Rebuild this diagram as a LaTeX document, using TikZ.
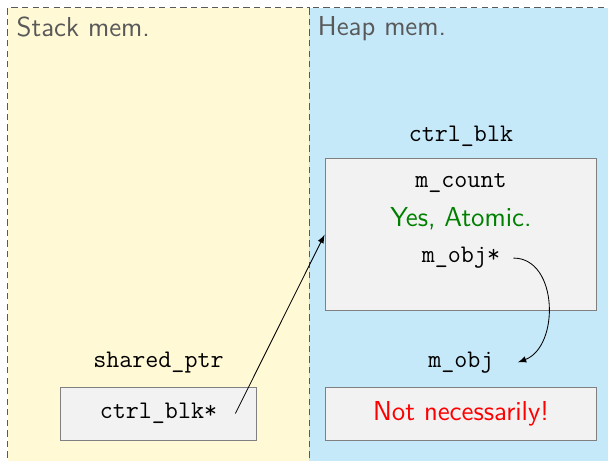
\documentclass[tikz,border=0pt]{standalone}
\usepackage{fontspec}
\usetikzlibrary{positioning}

\definecolor{stackbg}{RGB}{255,249,214}
\definecolor{heapbg}{RGB}{198,233,250}
\definecolor{cellbg}{RGB}{242,242,242}

\begin{document}
\begin{tikzpicture}[
    region/.style={draw=black!65, dash pattern=on 3pt off 2pt},
    regtitle/.style={anchor=north west, inner sep=4pt, text=black!65, font=\sffamily\fontsize{13}{15}\selectfont},
    cell/.style={draw=black!50, fill=cellbg, minimum height=0.88cm},
    code/.style={font=\ttfamily\fontsize{12}{14}\selectfont},
    note/.style={font=\sffamily\fontsize{13}{15}\selectfont}]
    \useasboundingbox (0,0) rectangle (10.13,7.68);
    \clip (0,0) rectangle (10.13,7.68);

    % the two memory areas
    \filldraw[fill=stackbg, region] (0.13,-1) rectangle (5.15,7.55);
    \filldraw[fill=heapbg, region] (5.15,-1) rectangle (11,7.55);
    \node[regtitle] (stk) at (0.13,7.55) {Stack mem.};
    \node[regtitle] (hp) at (5.15,7.55) {Heap mem.};

    % control block on the heap
    \node[cell, minimum width=4.53cm, minimum height=2.53cm] (blk) at (7.68,3.77) {};
    \node[code, above=2pt of blk] (blklbl) {ctrl\_blk};
    \node[code] (cnt) at (7.68,4.63) {m\_count};
    \node[note, text=green!50!black] (atomic) at (7.68,4.03) {Yes, Atomic.};
    \node[code] (objptr) at (7.68,3.38) {m\_obj*};

    % the object itself
    \node[cell, minimum width=4.53cm] (obj) at (7.68,0.79) {};
    \node[code, above=3pt of obj] (objlbl) {m\_obj};
    \node[note, text=red] (objval) at (obj) {Not necessarily!};

    % shared_ptr on the stack
    \node[cell, minimum width=3.28cm] (ptr) at (2.64,0.79) {};
    \node[code, above=3pt of ptr] (ptrlbl) {shared\_ptr};
    \node[code] (ptrval) at (ptr) {ctrl\_blk*};

    \draw[-latex] ([xshift=0.18cm]ptrval.east) -- (blk.west);
    \draw[-latex] ([xshift=0.1cm]objptr.east) to[out=0, in=20, looseness=1.1] ([xshift=0.28cm]objlbl.east);
\end{tikzpicture}
\end{document}
